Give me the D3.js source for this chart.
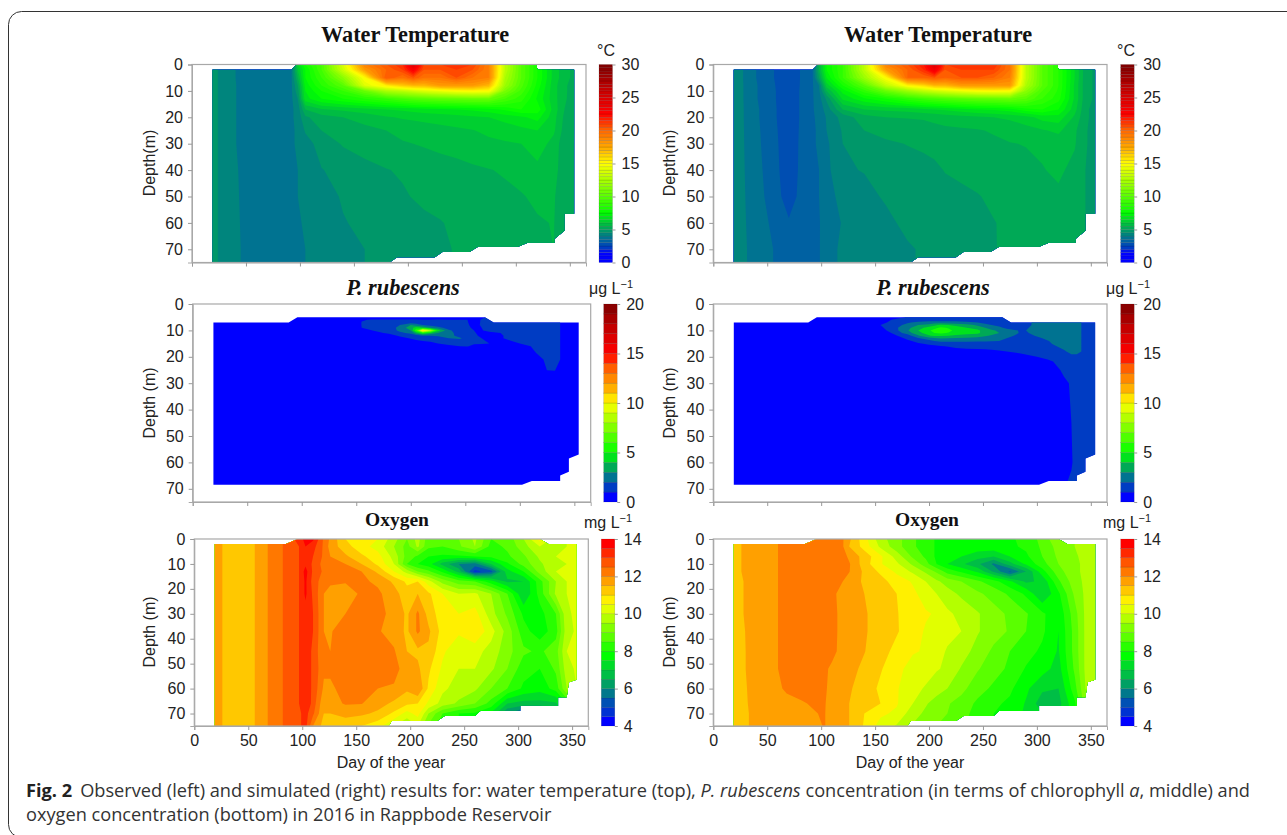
<!DOCTYPE html>
<html>
<head>
<meta charset="utf-8">
<script src="https://cdn.jsdelivr.net/npm/d3@7"></script>
<style>
  body { margin: 0; background: #fff; }
  text { font-family: "Liberation Sans", Arial, sans-serif; fill: #222; }
  .title { font-family: "Liberation Serif", serif; font-weight: bold; fill: #111; }
  .caption { font-family: "Open Sans", sans-serif; font-size: 18.2px; fill: #333; }
</style>
</head>
<body>
<div id="chart"></div>
<script>
// water temperature grids, rows are depths, columns are days
var tempDays = [15,24,41,70,92,98,105,120,140,160,180,195,205,215,230,245,260,275,290,305,320,335,345,358]
var tempDepths = [0,2,5,8,10,13,17,20,25,30,40,50,60,70,75]
var tempObs = [
  [4.7,4.5,3.98,3.7,3.9,6.5,8,9.5,14,19,20.5,21.5,25,21,21,21,21,19,13,10,8,6.3,5.7,5.2],
  [4.7,4.5,3.98,3.7,3.9,6,7.5,9.5,13.5,18,20,21,23,20.5,20.5,21,20.5,19,13,10,8,6.3,5.7,5.2],
  [4.7,4.5,3.98,3.7,3.9,5.5,7.5,9,11.5,15,20.5,19.5,20.5,19.5,19.5,20.5,19.5,19,12.5,10,8,6.3,5.7,5.2],
  [4.7,4.5,4,3.7,3.9,5,7.2,8.5,10,14,15.5,16.5,17,17,18,18,18,17,12,9.7,7.8,6.2,5.6,5.1],
  [4.7,4.5,4,3.7,3.9,4.8,7,8,9,10.5,12.5,13,13.5,14,14.5,15,15.2,15,11,9.3,7.6,6.2,5.6,5.1],
  [4.7,4.5,4,3.7,3.9,4.5,6.8,7.5,8,8.5,9,9.5,9.8,10,10.2,10.3,10.5,10.5,9.5,8.7,7.4,6.2,5.6,5],
  [4.7,4.5,4,3.7,3.9,4.2,5.5,5.95,6.1,6.3,6.5,6.6,6.7,6.8,6.9,7,7.1,7.3,7.6,8,7.8,6.3,5.5,5],
  [4.7,4.5,4,3.7,3.9,4.2,4.9,5.3,5.5,5.7,5.95,6.05,6.1,6.15,6.2,6.3,6.4,6.5,6.7,6.9,7.2,6.2,5.4,4.9],
  [4.7,4.5,4,3.7,3.9,4.1,4.55,5,5.2,5.35,5.5,5.65,5.7,5.75,5.85,5.9,5.98,6.1,6.2,6.35,6.5,6.1,5.3,4.9],
  [4.7,4.5,4,3.7,3.9,4.1,4.3,4.7,5.05,5.2,5.3,5.45,5.5,5.55,5.65,5.75,5.85,5.9,5.95,6,6.3,5.8,5.2,4.9],
  [4.7,4.5,4.02,3.7,3.9,4,4.15,4.48,4.65,4.85,4.98,5.05,5.1,5.2,5.25,5.3,5.4,5.48,5.55,5.7,5.85,5.7,5.2,4.9],
  [4.7,4.5,4.03,3.7,3.9,4,4.1,4.3,4.55,4.7,4.85,4.95,5.02,5.1,5.2,5.25,5.3,5.35,5.4,5.46,5.6,5.55,5.2,4.9],
  [4.7,4.5,4.04,3.7,3.9,3.95,4.05,4.2,4.47,4.6,4.7,4.8,4.85,4.9,4.97,5.1,5.15,5.2,5.3,5.35,5.45,5.52,5.2,4.9],
  [4.7,4.5,4.05,3.7,3.9,3.95,4,4.2,4.35,4.5,4.6,4.7,4.75,4.85,4.95,5.02,5.1,5.2,5.3,5.35,5.45,5.5,5.2,4.9],
  [4.7,4.5,4.05,3.7,3.9,3.95,4,4.2,4.35,4.5,4.6,4.7,4.75,4.85,4.95,5.02,5.1,5.2,5.3,5.35,5.45,5.5,5.2,4.9]
]
var tempSim = [
  [4.2,4.15,3.45,2.6,3.45,5.5,7.5,9,13,19,20.5,22,25,21,21.5,21,21.5,19.5,13,10,8.5,6.5,5.2,4.8],
  [4.2,4.15,3.45,2.6,3.45,5.5,7.5,9,13,18,20,21.5,23.5,20.5,21,21,21,19.5,13,10,8.5,6.5,5.2,4.8],
  [4.2,4.15,3.45,2.6,3.45,5,7,9,12,15,20,20,20.5,20,20.5,20.5,20,19,13,10,8.5,6.5,5.2,4.8],
  [4.2,4.15,3.5,2.62,3.45,4,6.2,8,10,13,15.2,16,17,17,18,18,18,18,12.5,10,8.5,6.4,5.2,4.8],
  [4.2,4.15,3.5,2.65,3.45,3.9,5.5,7.2,8.8,10.5,12,13,13.5,14,14.5,15,15.2,15,11.5,9.5,8.4,6.4,5.2,4.8],
  [4.2,4.15,3.5,2.65,3.45,3.8,4.6,6.6,7.4,8,8.7,9.2,9.5,9.7,10,10.2,10.3,10.5,10,9,8.2,6.4,5.2,4.8],
  [4.2,4.15,3.55,2.65,3.45,3.7,4.2,5.5,6,6.1,6.2,6.4,6.5,6.6,6.8,7,7.1,7.3,7.8,8,7.5,6.2,5.1,4.7],
  [4.2,4.15,3.55,2.65,3.45,3.6,4.05,4.7,5.3,5.5,5.52,5.54,5.6,5.7,5.8,5.9,6,6.1,6.3,6.7,6.8,5.9,5.1,4.7],
  [4.2,4.15,3.58,2.68,3.45,3.55,4,4.55,5,5.2,5.3,5.35,5.38,5.4,5.42,5.46,5.55,5.65,5.8,5.95,6.1,5.6,5.05,4.7],
  [4.2,4.15,3.6,2.7,3.45,3.55,3.9,4.5,4.7,4.9,5.02,5.08,5.12,5.2,5.25,5.3,5.4,5.48,5.52,5.6,5.72,5.55,5.05,4.7],
  [4.2,4.15,3.65,2.72,3.45,3.5,3.85,4.45,4.52,4.65,4.75,4.85,4.92,5.02,5.1,5.2,5.25,5.3,5.38,5.47,5.6,5.35,5,4.7],
  [4.2,4.15,3.7,2.78,3.45,3.5,3.88,4.1,4.38,4.55,4.65,4.7,4.75,4.85,4.9,4.97,5.1,5.2,5.25,5.3,5.4,5.3,5,4.7],
  [4.2,4.15,3.75,3.05,3.45,3.45,3.85,4.02,4.2,4.4,4.6,4.65,4.7,4.78,4.85,4.93,4.98,5.1,5.2,5.3,5.35,5.3,5,4.7],
  [4.2,4.15,3.8,3.2,3.45,3.45,3.9,4.05,4.15,4.3,4.45,4.55,4.65,4.7,4.8,4.9,4.98,5.08,5.2,5.3,5.35,5.3,5,4.7],
  [4.2,4.15,3.8,3.2,3.45,3.45,3.9,4.05,4.15,4.3,4.45,4.55,4.65,4.7,4.8,4.9,4.98,5.08,5.2,5.3,5.35,5.3,5,4.7]
]

// P. rubescens grids
var rubDays = [15,148,155,165,180,190,200,205,211,218,225,235,245,252,258,265,272,285,300,315,325,332,337,358]
var rubDepths = [0,5,6,7,8,9,10,11,12,13,14,15,16,18,21,25,30,60,75]
var rubObs = [
  [0,0,0,0,0,0,0,0,0,0,0,0,0,0,0,0,0,0,0,0,0,0,0,0],
  [0,0,0,0,0,0,0,0,0,0,0,0,0,0,0,0.8,1.2,1.2,1.2,1.2,1.2,1.2,0.9,0],
  [0,0,0.9,1.1,1.1,1.1,1.2,1.1,1,1,1.1,1,1,1,0.5,1.1,1.2,1.2,1.2,1.2,1.2,1.2,0.9,0],
  [0,0,1.05,1.3,1.2,1.3,1.6,1.5,1.3,1.3,1.2,1.2,1.2,1.05,0.6,1.1,1.3,1.3,1.3,1.3,1.3,1.3,1,0],
  [0,0,1.05,1.3,1.3,2,3,2.6,2,1.6,1.3,1.3,1.2,1.1,0.7,1.1,1.3,1.3,1.3,1.3,1.3,1.3,1,0],
  [0,0,1,1.2,1.5,2.3,3.6,4.5,4,3,2.4,1.5,1.3,1.2,0.8,1,1.3,1.3,1.3,1.3,1.3,1.3,1,0],
  [0,0,0.8,1,1.5,2.2,3,6,11,8.5,4.5,2.2,1.4,1.2,1,0.95,1.2,1.3,1.3,1.3,1.3,1.3,1,0],
  [0,0,0.5,0.8,1.1,1.8,2.2,3.5,5,4,3,2.3,1.6,1.3,1.1,0.7,0.8,1.05,1.2,1.3,1.3,1.3,1,0],
  [0,0,0,0.4,0.7,1.1,1.4,1.6,2,2,2.2,2.2,1.8,1.5,1.2,0.8,0.6,1,1.2,1.3,1.3,1.3,1,0],
  [0,0,0,0,0.4,0.8,1.05,1.2,1.2,1.3,1.4,2,2.1,1.7,1.3,1,0.7,1,1.2,1.3,1.3,1.3,1,0],
  [0,0,0,0,0,0.4,0.7,0.9,1,1.1,1.2,1.4,1.7,1.5,1.2,1.1,0.9,0.9,1.1,1.2,1.3,1.3,1,0],
  [0,0,0,0,0,0,0.4,0.5,0.6,0.8,1,1.1,1.2,1.1,1.05,1.05,1,0.5,1,1.2,1.3,1.3,1,0],
  [0,0,0,0,0,0,0,0.2,0.3,0.5,0.6,0.9,1,1.05,0.8,0.7,0.5,0.2,0.8,1.1,1.2,1.3,1,0],
  [0,0,0,0,0,0,0,0,0,0,0,0.2,0.3,0.3,0.2,0.1,0,0,0.4,1.05,1.2,1.2,1,0],
  [0,0,0,0,0,0,0,0,0,0,0,0,0,0,0,0,0,0,0,0.8,1.1,1.2,1,0],
  [0,0,0,0,0,0,0,0,0,0,0,0,0,0,0,0,0,0,0,0.2,1.02,1.05,0.6,0],
  [0,0,0,0,0,0,0,0,0,0,0,0,0,0,0,0,0,0,0,0,0,0,0,0],
  [0,0,0,0,0,0,0,0,0,0,0,0,0,0,0,0,0,0,0,0,0,0,0,0],
  [0,0,0,0,0,0,0,0,0,0,0,0,0,0,0,0,0,0,0,0,0,0,0,0]
]
var rubSim = [
  [0,0,0,0,0,0,0,0,0,0,0,0,0,0,0,0,0,0,0,0,0,0,0,0],
  [0,0,0,0.5,1.1,1.2,1.2,1.2,1.2,1.2,1.2,1.2,1.2,1.2,1.2,1.2,1.2,1.2,2.2,2.3,2.3,2.3,2.3,1.2],
  [0,0,0.5,1,1.3,1.5,1.6,1.6,1.6,1.6,1.6,1.5,1.4,1.3,1.2,1.2,1.2,1.3,2.2,2.3,2.3,2.3,2.3,1.2],
  [0,0,0.7,1.2,1.9,2.2,2.3,2.4,2.4,2.4,2.3,2.2,2,1.7,1.5,1.3,1.3,1.6,2.2,2.3,2.3,2.3,2.2,1.2],
  [0,0,1,1.4,2.3,3,3.4,3.8,4.2,4,3.7,3.4,2.8,2.3,2,1.8,1.5,1.6,2.2,2.3,2.3,2.3,2.2,1.2],
  [0,0,0.8,1.5,2.7,3.6,4.4,4.7,5.2,4.9,4.5,4,3.6,3,2.5,2.2,1.8,1.8,2.2,2.3,2.3,2.3,2.2,1.2],
  [0,0,0.6,1.3,2.9,4,4.9,5.3,5.8,5.3,4.7,4.4,4.2,3.6,3.2,2.8,2.4,1.9,2.2,2.3,2.3,2.3,2.2,1.2],
  [0,0,0.3,1,2.5,3.7,4.5,5,5.2,4.9,4.6,4.4,4.2,3.6,3.3,3,2.6,1.9,2.1,2.3,2.3,2.3,2.2,1.2],
  [0,0,0,0.7,1.5,2.9,3.9,4.2,4.1,4,3.8,3.6,3.4,3.1,2.9,2.8,2.3,1.7,2.05,2.3,2.3,2.3,2.2,1.2],
  [0,0,0,0.3,1.2,1.9,2.5,2.9,3.1,3,2.9,2.8,2.7,2.6,2.5,2.3,2,1.6,1.9,2.2,2.3,2.3,2.2,1.2],
  [0,0,0,0,0.8,1.3,1.7,2,2.2,2.2,2.2,2.2,2.1,2.1,2.1,2,1.6,1.4,1.7,2.1,2.3,2.3,2.2,1.2],
  [0,0,0,0,0.4,0.9,1.2,1.3,1.5,1.5,1.6,1.6,1.5,1.5,1.4,1.4,1.3,1.3,1.5,2.05,2.3,2.3,2.2,1.2],
  [0,0,0,0,0,0.4,0.7,0.8,0.95,1.05,1.2,1.25,1.2,1.2,1.2,1.2,1.2,1.2,1.4,1.9,2.2,2.3,2.2,1.2],
  [0,0,0,0,0,0,0.2,0.3,0.4,0.5,0.6,0.7,0.8,0.85,0.9,0.95,1,1.1,1.2,1.5,1.9,2.2,2.2,1.2],
  [0,0,0,0,0,0,0,0,0,0,0.1,0.2,0.3,0.4,0.4,0.5,0.6,0.7,0.9,1.05,1.4,1.6,1.6,1.2],
  [0,0,0,0,0,0,0,0,0,0,0,0,0,0,0,0.1,0.2,0.3,0.5,0.8,1.1,1.3,1.35,1.2],
  [0,0,0,0,0,0,0,0,0,0,0,0,0,0,0,0,0,0,0.1,0.5,0.9,1.05,1.3,1.2],
  [0,0,0,0,0,0,0,0,0,0,0,0,0,0,0,0,0,0,0,0.4,0.85,0.95,1.2,1.2],
  [0,0,0,0,0,0,0,0,0,0,0,0,0,0,0,0,0,0,0,0.9,1.05,1.2,1.2,1.2]
]

// oxygen grids
var oxyDays = [15,26,40,56,68,82,97,103,110,120,126,140,155,170,185,197,207,217,230,245,260,275,290,305,320,335,345,358]
var oxyDepths = [0,3,7,10,13,17,22,30,37,45,52,60,66,70,75]
var oxyObs = [
  [11.8,11.5,11.2,11.5,12,12.5,13.2,13.7,13.6,12.4,11.9,11,10.7,10.5,9.7,9,9.7,8.7,8.7,9,9.6,8.5,8.7,9.5,10.7,9.7,10,10.2],
  [11.8,11.5,11.2,11.5,12,12.5,13,13.5,13.2,12.4,11.8,11.2,10.7,10.3,9.5,8.8,9.6,8.6,8.5,8.9,9.5,8.3,8.6,9.3,10,9.7,10,10.2],
  [11.8,11.5,11.2,11.5,12,12.5,13,13.4,13,12.4,12,11.6,11.1,10.7,9.8,8.8,8.4,8,7.9,7.9,8,8.1,8.4,8.9,9.6,10,10,10.2],
  [11.8,11.5,11.2,11.5,12,12.5,13,13.4,12.9,12.3,12.2,12,11.5,10.9,10,8.5,8,7.7,6.8,6,5.8,7,7.9,8.7,9.4,9.9,10,10.2],
  [11.8,11.5,11.2,11.5,12,12.5,13,13.7,12.9,12.4,12.3,12.2,12,11.4,10.5,9.8,9,8.6,7.9,6.8,4.8,5.3,7.3,8,9.2,10,10,10.2],
  [11.8,11.5,11.2,11.5,12,12.5,13,13.6,12.8,12.2,12.1,12.05,12.1,11.9,11.4,10.9,11,10.2,9.3,8.7,8.5,7.7,6.9,7,8.3,9.5,10,10.2],
  [11.8,11.5,11.2,11.5,12,12.5,13,13.6,12.9,12,11.8,11.7,12.1,12.1,11.7,11.2,11.5,11.1,10.5,10,10.1,9.5,8.5,7,8.2,9.6,10,10.2],
  [11.8,11.5,11.2,11.5,12,12.5,13,13.3,13,12,11.9,12,12.2,12.1,11.9,11.4,12.1,11.3,10.7,10.5,10.7,9.7,8.9,7.9,7.8,8.5,9.9,10.2],
  [11.8,11.5,11.2,11.5,12,12.5,13,13.3,13,12,11.95,12.3,12.4,12.05,11.8,11.4,12.1,11.6,10.8,10.6,10.95,10.2,9.3,8.2,7.7,8.3,9.8,10.2],
  [11.8,11.5,11.2,11.5,12,12.5,13,13.3,12.9,12,12,12.3,12.3,12,12.05,11.5,11.4,11.4,10.6,10.1,10.2,9.8,9.2,8.6,8.4,8.8,10,10.2],
  [11.8,11.5,11.2,11.5,12,12.5,13,13.3,12.9,12.1,12.1,12.3,12.3,12,12.3,11.6,11.6,11.1,10.4,10,10,9.6,9,8.2,8,8.6,9.8,10.2],
  [11.8,11.5,11.2,11.5,12,12.5,13,13.3,12.9,11.9,11.9,12.2,12.2,12,11.9,11.6,12,10.9,10.1,9.8,9.6,9,8.5,7.9,7.7,8.2,9.5,10.2],
  [11.8,11.5,11.2,11.5,12,12.5,13,13.5,12.8,11.6,11.8,12.05,12.02,11.7,11.4,11.1,11,10.4,9.8,9.4,9,8.3,7,6.8,6.8,6.9,8,10],
  [11.8,11.5,11.2,11.5,12,12.5,12.9,13.2,12.6,11.5,11.5,11.6,11.6,11.4,10.9,10.3,10.7,9.5,8.5,8,7.9,7.4,6,5.2,5.2,6,7.5,10],
  [11.8,11.5,11.2,11.5,12,12.5,12.9,13.2,12,11.3,11.3,11.3,11,10.7,10,9.5,10,8.9,8.2,8,7.9,7.4,6,5.2,5.2,6,7.5,10]
]
var oxySim = [
  [11,11.5,11.8,11.95,12.1,12.2,12.2,12.2,12.2,12.05,11.6,10.7,9.7,9.2,8.6,8.2,7.95,7.9,7.8,7.85,7.9,7.95,8.1,8.7,9.4,9.5,9.6,9.8],
  [11,11.5,11.8,11.95,12.1,12.2,12.2,12.2,12.2,12.05,11.5,10.8,9.9,9.2,8.6,8.2,7.95,7.8,7.7,7.8,7.85,7.9,8.1,8.6,9.2,9.5,9.6,9.8],
  [11,11.5,11.8,11.95,12.1,12.3,12.3,12.3,12.3,12.2,11.9,11.3,10.6,9.8,8.9,8.4,7.9,7.6,7.5,7.2,7,7.5,7.9,8.5,9.1,9.45,9.6,9.8],
  [11,11.5,11.8,11.95,12.1,12.3,12.3,12.3,12.3,12.3,12.05,11.25,10.55,10.1,9.4,8.7,8,7.5,7.1,6.6,5.9,6.8,7.6,8.3,9,9.4,9.6,9.8],
  [11,11.5,11.8,11.95,12.1,12.3,12.3,12.3,12.3,12.3,12.02,11.4,10.9,10.4,9.9,9.4,8.9,8.3,7.9,7.4,6.4,5.4,6.5,7.8,8.8,9.4,9.6,9.8],
  [11,11.45,11.8,11.95,12.1,12.3,12.3,12.3,12.15,12,11.85,11.4,11.2,10.75,10.45,10,9.6,9.3,9,8.6,8.2,7.6,6.9,7.1,8.4,9.3,9.6,9.8],
  [11,11.45,11.8,11.95,12.1,12.3,12.3,12.3,12.1,11.85,11.7,11.5,11.25,11,10.6,10.3,10,9.7,9.4,9.1,8.8,8.4,7.9,7,7.9,9.1,9.6,9.8],
  [11,11.45,11.8,11.95,12.1,12.3,12.3,12.3,12.1,11.9,11.75,11.55,11.3,11.03,10.75,10.55,10.45,10.1,9.85,9.55,9.2,8.9,8.55,8.1,7.6,8.8,9.6,9.8],
  [11,11.4,11.8,11.95,12.1,12.3,12.3,12.3,12.1,11.9,11.8,11.55,11.3,11.05,10.7,10.45,10.3,10.15,10,9.55,9.2,8.95,8.5,8.1,7.5,8.7,9.6,9.8],
  [11,11.4,11.75,11.95,12.1,12.3,12.3,12.2,12.08,11.9,11.75,11.52,11.2,10.85,10.55,10.45,10.2,9.95,9.75,9.3,8.9,8.5,8.2,7.9,7.45,8.7,9.6,9.8],
  [11,11.4,11.75,11.95,12.1,12.3,12.3,12.05,11.95,11.8,11.65,11.4,11.05,10.65,10.3,10.2,10.05,9.9,9.45,9.05,8.7,8.4,7.95,7.7,7.3,8.6,9.6,9.8],
  [11,11.35,11.75,11.9,12.05,12.2,12.2,12.05,11.9,11.7,11.55,11.3,10.9,10.55,10.15,9.95,9.7,9.5,9.15,8.7,8.4,8.1,7.6,7.1,7,8.3,9.5,9.8],
  [11,11.35,11.7,11.85,11.9,11.95,12.1,12.03,11.85,11.6,11.5,11.15,11,10.55,10,9.55,9.3,9.05,8.8,8.4,8.1,7.9,7.45,6.7,6.8,7.9,9.3,9.8],
  [11,11.3,11.7,11.8,11.85,11.9,12,12.02,11.85,11.55,11.5,11,10.6,10.4,9.7,9.4,9.2,9,8.7,8.3,8,7.8,7.4,7,7,7.7,9.3,9.8],
  [11,11.3,11.7,11.8,11.85,11.9,11.95,12.02,11.85,11.55,11.5,10.95,10.3,9.95,9.45,9.2,9,8.9,8.6,8.2,8,7.8,7.4,7,7,7.7,9.3,9.8]
]

// water body outlines, one day and one depth per corner
var tempEdgeDay = [19,92,97,319,320,354,354,345,345,336,336,311,302,265,257,232,225,190,183,19]
var tempEdgeDepth = [2,2,0,0,2,2,56.5,56.5,63,66,67.5,67.5,69,69,71,71,73,73,75,75]
var rubEdgeDay = [19,88,96,268,276,354,354,345,345,337,337,311,302,19]
var rubEdgeDepth = [7,7,5,5,7,7,57,58.5,63.5,65,67,67,68.5,68.5]
var oxyEdgeDay = [19,85,96,320,328,354,354,347,345,337,337,302,302,265,260,232,225,183,180,19]
var oxyEdgeDepth = [2,2,0,0,2,2,56.5,57.5,63.5,63.5,67,67,69,69,71,71,73,73,75,75]

var dayTicks = [0,50,100,150,200,250,300,350]
var depthTicks = [0,10,20,30,40,50,60,70]
var tempBarTicks = [0,5,10,15,20,25,30]
var rubBarTicks = [0,5,10,15,20]
var oxyBarTicks = [4,6,8,10,12,14]

var width = 1287, height = 835

var svg = d3.select("#chart").append("svg")
  .attr("width", width)
  .attr("height", height)

// figure frame
svg.append("rect")
  .attr("x", 8.5).attr("y", 11.5)
  .attr("width", 1320).attr("height", 826)
  .attr("rx", 13)
  .attr("fill", "none")
  .attr("stroke", "#333")

var rainbow = d3.scaleLinear()
  .domain([0,0.05,0.075,0.125,0.167,0.25,0.375,0.5,0.58,0.67,0.75,0.85,1])
  .range(["#0000ff","#0000ff","#003cc3","#007391","#00a05f","#00ff00","#82ff00","#ffff00","#ffaa00","#ff6400","#ff0000","#d20000","#7d0000"])

var oxyColors = ["#0000ff","#0032d2","#0050b4","#00788c","#00a064","#00be46","#00dc28","#00ff00","#28ff00","#5aff00",
  "#82ff00","#b4ff00","#e1ff00","#fff000","#ffc800","#ffa000","#ff7800","#ff5500","#ff2800","#ff0000"]

function drawPanel(p) {
  var g = svg.append("g")

  var x = d3.scaleLinear().domain([0, 365]).range([p.left, p.right])
  var y = d3.scaleLinear().domain([0, 75]).range([p.top, p.bottom])

  // grid cell i is centred on i + 0.5 in the contour output
  var xIndex = d3.scaleLinear().domain(p.days.map(function(d, i) { return i + 0.5 })).range(p.days).clamp(true)
  var yIndex = d3.scaleLinear().domain(p.depths.map(function(d, i) { return i + 0.5 })).range(p.depths).clamp(true)

  var project = d3.geoTransform({
    point: function(a, b) {
      this.stream.point(x(xIndex(a)), y(yIndex(b)))
    }
  })
  var path = d3.geoPath(project)

  var step = (p.max - p.min) / p.bands
  var thresholds = d3.range(p.bands).map(function(i) { return p.min + i * step })

  var contours = d3.contours()
    .size([p.days.length, p.depths.length])
    .thresholds(thresholds)
    .smooth(true)(d3.merge(p.values))

  g.append("clipPath").attr("id", p.id)
    .append("polygon")
    .attr("points", p.edgeDay.map(function(d, i) {
      return x(d) + "," + y(p.edgeDepth[i])
    }).join(" "))

  g.append("g")
    .attr("clip-path", "url(#" + p.id + ")")
    .selectAll("path")
    .data(contours)
    .enter().append("path")
    .attr("d", path)
    .attr("fill", function(d, i) { return p.color(i) })

  // axes
  g.append("rect")
    .attr("x", p.left).attr("y", p.top)
    .attr("width", p.right - p.left).attr("height", p.bottom - p.top)
    .attr("fill", "none").attr("stroke", "#a8a8a8").attr("stroke-width", 1.2)

  var xAxis = d3.axisBottom(x).tickValues(dayTicks).tickSize(4).tickPadding(5)
  if (!p.xLabels) xAxis.tickFormat("")
  var gx = g.append("g").attr("transform", "translate(0," + p.bottom + ")").call(xAxis)

  var yAxis = d3.axisLeft(y).tickValues(depthTicks).tickSize(4).tickPadding(5)
  var gy = g.append("g").attr("transform", "translate(" + p.left + ",0)").call(yAxis)

  // colour bar
  var bar = d3.scaleLinear().domain([p.min, p.max]).range([p.bottom, p.top])
  g.selectAll(".band")
    .data(thresholds)
    .enter().append("rect")
    .attr("class", "band")
    .attr("x", p.barX)
    .attr("width", 13.5)
    .attr("y", function(d) { return bar(d + step) })
    .attr("height", function(d) { return bar(d) - bar(d + step) })
    .attr("fill", function(d, i) { return p.color(i) })
    .attr("stroke", "rgba(0,0,0,0.22)")
    .attr("stroke-width", 0.5)

  var gb = g.append("g")
    .attr("transform", "translate(" + (p.barX + 13.5) + ",0)")
    .call(d3.axisRight(bar).tickValues(p.barTicks).tickSize(3).tickPadding(6))
  gb.select(".domain").remove()

  ;[gx, gy, gb].forEach(function(a) {
    a.selectAll("text").attr("font-size", 16).attr("font-family", "Liberation Sans").attr("fill", "#222")
    a.selectAll("line").attr("stroke", "#999")
    a.select(".domain").attr("stroke", "#a8a8a8")
  })

  // titles and labels
  g.append("text")
    .attr("class", "title")
    .attr("x", p.titleX).attr("y", p.titleY)
    .attr("text-anchor", "middle")
    .attr("font-size", p.titleSize)
    .attr("font-style", p.titleItalic ? "italic" : "normal")
    .text(p.title)

  g.append("text")
    .attr("transform", "translate(" + p.depthX + "," + p.depthY + ") rotate(-90)")
    .attr("text-anchor", "middle")
    .attr("font-size", 16)
    .text(p.depthLabel)

  if (p.xLabels) {
    g.append("text")
      .attr("x", p.dayX).attr("y", 768)
      .attr("text-anchor", "middle")
      .attr("font-size", 16)
      .text("Day of the year")
  }

  var unit = g.append("text")
    .attr("x", p.unitX).attr("y", p.unitY)
    .attr("font-size", 16)
    .text(p.unit)
  if (p.unitSup) {
    unit.append("tspan").attr("dy", -6).attr("font-size", 11).text(p.unitSup)
  }
}

var rows = [
  { top: 64.5, bottom: 262.5, days: tempDays, depths: tempDepths, min: 0, max: 30, bands: 60,
    edgeDay: tempEdgeDay, edgeDepth: tempEdgeDepth, title: "Water Temperature", titleSize: 22.3, titleY: 42,
    barTicks: tempBarTicks, unit: "°C", unitY: 56, depthY: 163,
    color: function(i) { return rainbow((i + 0.5) / 60) } },
  { top: 304, bottom: 502, days: rubDays, depths: rubDepths, min: 0, max: 20, bands: 20,
    edgeDay: rubEdgeDay, edgeDepth: rubEdgeDepth, title: "P. rubescens", titleSize: 22.3, titleY: 295, titleItalic: true,
    barTicks: rubBarTicks, unit: "μg L", unitSup: "−1", unitY: 294, depthY: 403,
    color: function(i) { return rainbow((i + 0.5) / 20) } },
  { top: 539, bottom: 726, days: oxyDays, depths: oxyDepths, min: 4, max: 14, bands: 20,
    edgeDay: oxyEdgeDay, edgeDepth: oxyEdgeDepth, title: "Oxygen", titleSize: 19.5, titleY: 526,
    barTicks: oxyBarTicks, unit: "mg L", unitSup: "−1", unitY: 528, depthY: 632, xLabels: true,
    color: function(i) { return oxyColors[i] } }
]

var columns = [
  { left: [192, 192.7, 194.3], right: [586, 590.7, 588.3], barX: [599, 603.7, 601.3], titleX: [415, 403, 397],
    unitX: [597, 589, 584], depthX: 155, dayX: 391, values: [tempObs, rubObs, oxyObs], name: "obs" },
  { left: [713.3, 713.3, 713.3], right: [1107, 1107, 1107], barX: [1120.7, 1120.7, 1120.7], titleX: [938, 933, 927],
    unitX: [1117, 1106, 1103], depthX: 675, dayX: 910, values: [tempSim, rubSim, oxySim], name: "sim" }
]

columns.forEach(function(c) {
  rows.forEach(function(r, i) {
    drawPanel(Object.assign({}, r, {
      id: c.name + i,
      left: c.left[i],
      right: c.right[i],
      barX: c.barX[i],
      titleX: c.titleX[i],
      unitX: c.unitX[i],
      depthX: c.depthX,
      dayX: c.dayX,
      values: c.values[i],
      depthLabel: i == 0 ? "Depth(m)" : "Depth (m)"
    }))
  })
})

// caption
var line1 = svg.append("text").attr("class", "caption").attr("x", 26).attr("y", 797)
line1.append("tspan").attr("font-weight", "bold").attr("fill", "#222").text("Fig. 2")
line1.append("tspan").attr("dx", 8).text("Observed (left) and simulated (right) results for: water temperature (top), ")
line1.append("tspan").attr("font-style", "italic").text("P. rubescens")
line1.append("tspan").text(" concentration (in terms of chlorophyll ")
line1.append("tspan").attr("font-style", "italic").text("a")
line1.append("tspan").text(", middle) and")

svg.append("text").attr("class", "caption").attr("x", 26).attr("y", 821)
  .text("oxygen concentration (bottom) in 2016 in Rappbode Reservoir")
</script>
</body>
</html>
